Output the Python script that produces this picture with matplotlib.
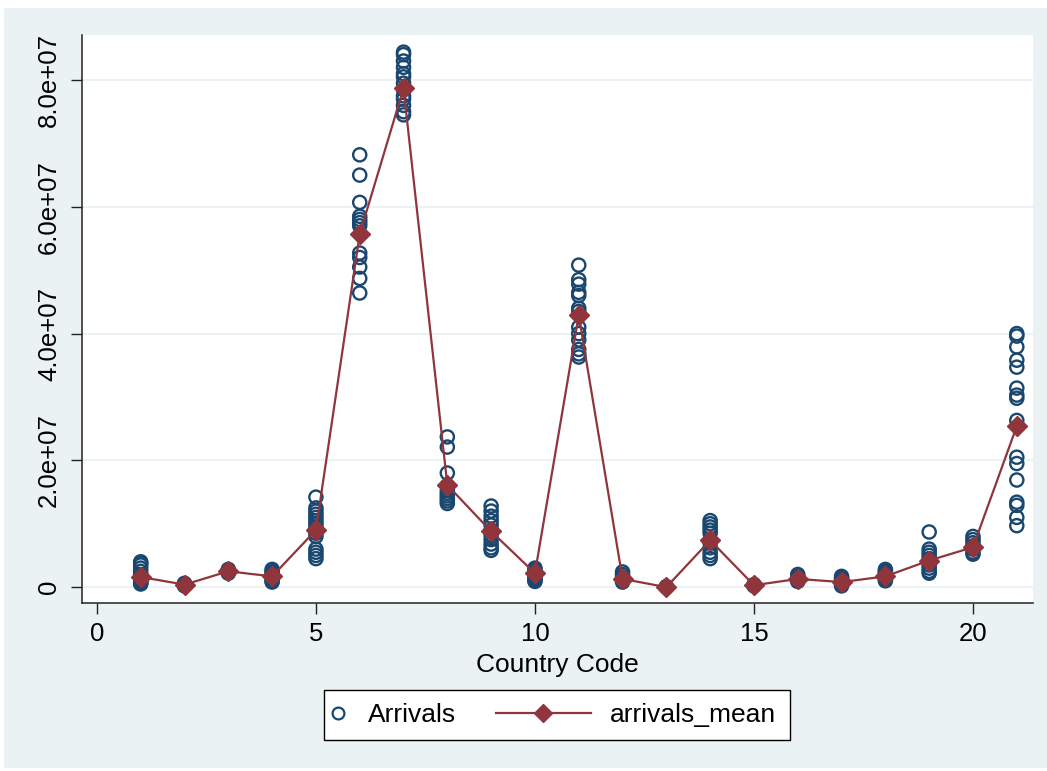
import matplotlib
matplotlib.use('Agg')
import matplotlib.pyplot as plt
from matplotlib.legend_handler import HandlerLine2D
from matplotlib.lines import Line2D
from matplotlib.patches import Rectangle

plt.rcParams['font.family'] = ['Liberation Sans', 'DejaVu Sans']

# arrivals per country, in millions
country_codes = list(range(1, 22))
arrivals = [
    [4.0, 3.8, 3.5, 3.0, 2.5, 2.0, 1.8, 1.5, 1.2, 1.0, 0.8, 0.6, 0.5],
    [0.6, 0.5, 0.4, 0.3, 0.2],
    [2.8, 2.6, 2.5, 2.4, 2.2],
    [2.8, 2.5, 2.2, 1.9, 1.6, 1.3, 1.0, 0.8],
    [14.2, 12.5, 12.0, 11.5, 11.0, 10.5, 10.0, 9.5, 8.5, 8.0, 6.0, 5.5, 5.0, 4.5],
    [68.2, 65.0, 60.7, 58.5, 58.0, 57.5, 57.0, 52.7, 52.0, 50.5, 48.7, 46.4],
    [84.4, 84.0, 83.0, 82.0, 81.0, 80.5, 79.5, 78.5, 77.5, 77.0, 76.0, 75.0, 74.5],
    [23.7, 22.1, 18.0, 16.0, 15.2, 14.8, 14.4, 14.0, 13.6, 13.2],
    [12.8, 12.0, 11.2, 10.5, 9.8, 9.0, 8.2, 7.5, 6.8, 6.2, 5.8],
    [3.0, 2.7, 2.4, 2.0, 1.7, 1.4, 1.1, 0.9],
    [50.8, 48.5, 47.8, 46.5, 46.0, 44.0, 43.5, 41.0, 40.0, 39.0, 37.5, 36.8, 36.3],
    [2.4, 2.0, 1.6, 1.2, 0.8],
    [0.1, 0.0],
    [10.5, 10.0, 9.5, 9.0, 8.5, 7.0, 6.2, 5.5, 5.0, 4.5],
    [0.4, 0.3, 0.2],
    [2.0, 1.7, 1.4, 1.1, 0.9],
    [1.7, 1.4, 1.1, 0.8, 0.5, 0.2],
    [2.8, 2.5, 2.2, 1.9, 1.6, 1.3, 1.0],
    [8.7, 6.0, 5.5, 5.0, 4.5, 4.0, 3.5, 3.0, 2.5, 2.2],
    [8.0, 7.5, 7.0, 6.5, 6.0, 5.5, 5.2],
    [40.0, 39.6, 37.9, 35.8, 34.7, 31.4, 30.3, 29.8, 26.3, 20.5, 19.5, 16.9, 13.4, 12.9, 11.0, 9.7],
]
arrivals_mean = [1.6, 0.4, 2.5, 1.7, 9.0, 55.7, 78.7, 16.1, 8.8, 2.2, 42.9, 1.3, 0.0,
                 7.4, 0.3, 1.3, 0.8, 1.7, 4.2, 6.3, 25.4]

yticks = [0, 2e7, 4e7, 6e7, 8e7]
ytick_labels = ['0', '2.0e+07', '4.0e+07', '6.0e+07', '8.0e+07']
xticks = [0, 5, 10, 15, 20]

navy = '#1A476F'
maroon = '#90353B'
bg = '#EAF2F3'

W, H = 1047, 771
fig = plt.figure(figsize=(W / 100, H / 100), dpi=100, facecolor='white')
fig.patches.append(Rectangle((4 / W, 3 / H), 1 - 4 / W, 1 - 11 / H,
                             transform=fig.transFigure, facecolor=bg,
                             edgecolor='none', zorder=-5))

ax = fig.add_axes([82 / W, 1 - 603 / H, (1033 - 82) / W, (603 - 35) / H])
ax.set_zorder(2)
ax.set_facecolor('white')

xs, ys = [], []
for code, vals in zip(country_codes, arrivals):
    xs += [code] * len(vals)
    ys += [v * 1e6 for v in vals]
ax.scatter(xs, ys, s=90, facecolors='none', edgecolors=navy, linewidths=1.7,
           zorder=3, label='Arrivals')
ax.plot(country_codes, [m * 1e6 for m in arrivals_mean], color=maroon, lw=1.6,
        marker='D', ms=10.5, zorder=4, label='arrivals_mean')

ax.set_xlim(-0.34, 21.37)
ax.set_ylim(-0.25e7, 8.71e7)
ax.set_xticks(xticks)
ax.set_yticks(yticks)
ax.set_yticklabels(ytick_labels)
ax.grid(axis='y', color=bg, lw=1.4)
ax.set_axisbelow(True)
for s in ['top', 'right']:
    ax.spines[s].set_visible(False)
for s in ['left', 'bottom']:
    ax.spines[s].set_linewidth(1.1)
    ax.spines[s].set_color('#222222')
ax.tick_params(axis='both', length=8, width=1.0, color='#222222', labelsize=18.5)
ax.tick_params(axis='y', pad=7)
ax.tick_params(axis='x', pad=6)
plt.setp(ax.get_yticklabels(), rotation=90, va='center')
ax.set_xlabel('Country Code', fontsize=19, labelpad=5)


class StretchHandler(HandlerLine2D):
    """Line handle that extends `ext` font-sizes to the left of the handle box."""
    def __init__(self, ext, **kw):
        super().__init__(numpoints=1, **kw)
        self.ext = ext

    def create_artists(self, legend, orig_handle, xdescent, ydescent, width,
                       height, fontsize, trans):
        extra = self.ext * fontsize
        return super().create_artists(legend, orig_handle, xdescent + extra,
                                      ydescent, width + extra, height,
                                      fontsize, trans)


h1 = Line2D([], [], ls='none', marker='o', ms=8.5, mfc='none', mec=navy, mew=1.6)
h2 = Line2D([], [], color=maroon, lw=1.6, marker='D', ms=9)
leg = fig.legend([h1, h2], ['Arrivals', 'arrivals_mean'], loc='center',
                 bbox_to_anchor=(557 / W, 1 - 715 / H), ncol=2, fontsize=19,
                 frameon=True, fancybox=False, edgecolor='black', framealpha=1,
                 handlelength=0.4, handletextpad=0.75, columnspacing=4.7,
                 borderpad=0.5,
                 handler_map={h1: StretchHandler(0.4), h2: StretchHandler(3.2)})
leg.get_frame().set_linewidth(1.0)

fig.savefig('out.png', dpi=100)
